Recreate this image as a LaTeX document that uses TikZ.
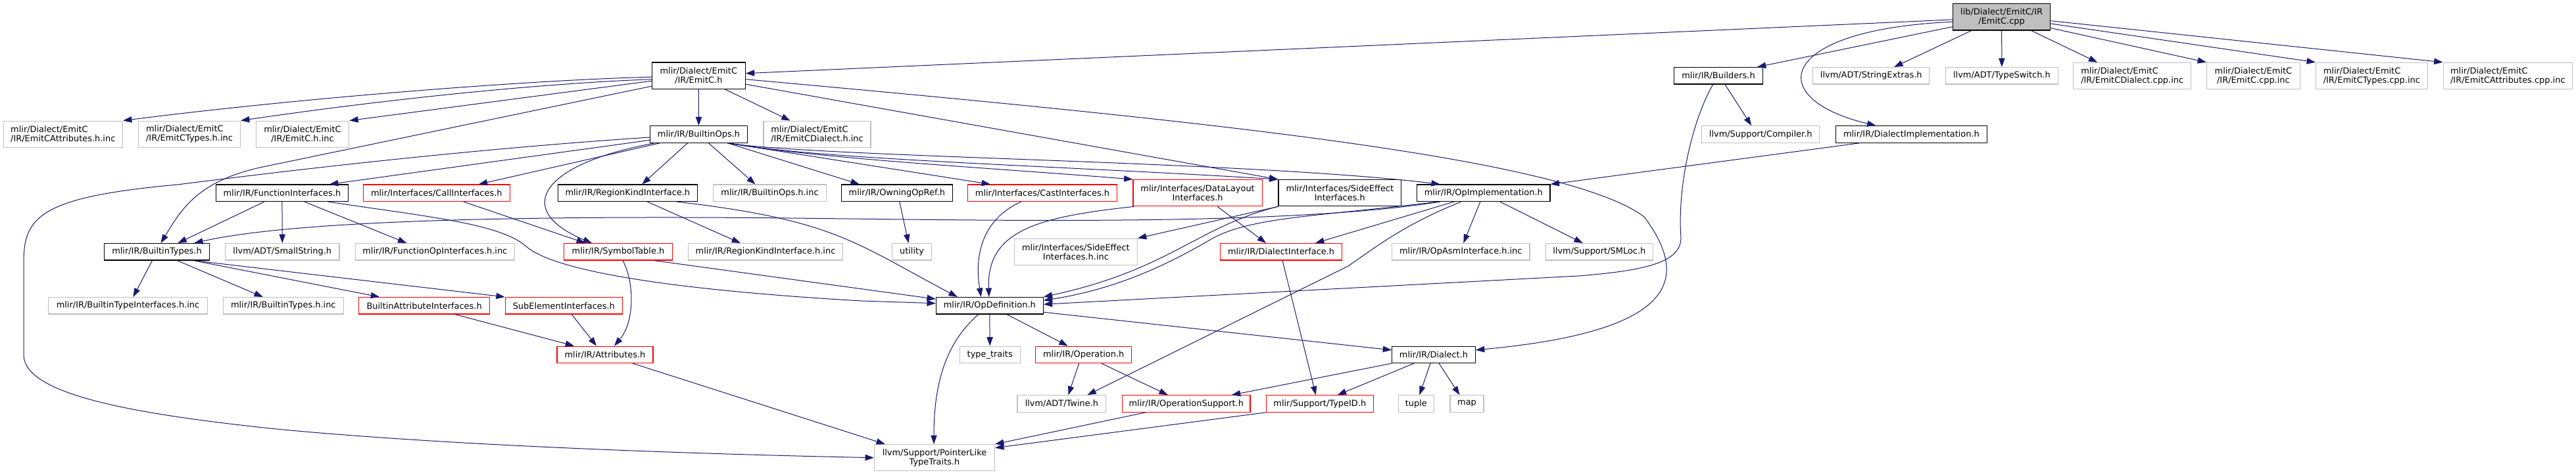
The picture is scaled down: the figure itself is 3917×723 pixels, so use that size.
\documentclass[tikz,border=0pt]{standalone}
\usepackage{fontspec}
\setmainfont{DejaVu Sans}
\usepackage{tikz}
\usetikzlibrary{arrows.meta, calc}

\definecolor{edgeblue}{HTML}{191970}
\definecolor{boxgrey}{HTML}{BFBFBF}
\newcommand{\graphfont}{\fontsize{9.7}{10.5}\selectfont}

\begin{document}
\begin{tikzpicture}[
    x=0.75pt, y=-0.75pt,
    file/.style={rectangle, draw, line width=0.85pt, inner xsep=1pt, inner ysep=0pt, minimum height=19.1pt, font=\graphfont, align=center, text=black},
    tall/.style={minimum height=30.2pt},
    lft/.style={align=left},
    bw/.style={minimum width=#1*0.75pt},
    rootbox/.style={file, draw=black, fill=boxgrey},
    docbox/.style={file, draw=black},
    extbox/.style={file, draw=boxgrey},
    cutbox/.style={file, draw=red},
    arrow/.style={-{Triangle[length=10pt, width=7pt]}, edgeblue, line width=0.75pt}
]
\path[fill=white, use as bounding box] (0,0) rectangle (3917,723);

% Root file
\node[rootbox, tall, bw=148.2] (cpp) at (3043.6,25.9) {lib/Dialect/EmitC/IR\\/EmitC.cpp};

% Level 1
\node[docbox, tall, bw=141.9] (emitch) at (1062.3,115.2) {mlir/Dialect/EmitC\\/IR/EmitC.h};
\node[docbox, bw=134.8] (builders) at (2613,115.3) {mlir/IR/Builders.h};
\node[extbox, bw=177.2] (strext) at (2845.2,115.3) {llvm/ADT/StringExtras.h};
\node[extbox, bw=170.5] (typesw) at (3043.9,115.3) {llvm/ADT/TypeSwitch.h};
\node[extbox, tall, lft, bw=179.1] (dialcppinc) at (3242.2,115.5) {mlir/Dialect/EmitC\\/IR/EmitCDialect.cpp.inc};
\node[extbox, tall, bw=141.7] (emitccppinc) at (3426.4,115.5) {mlir/Dialect/EmitC\\/IR/EmitC.cpp.inc};
\node[extbox, tall, lft, bw=169.7] (typescppinc) at (3606.3,115.5) {mlir/Dialect/EmitC\\/IR/EmitCTypes.cpp.inc};
\node[extbox, tall, lft, bw=196.5] (attrcppinc) at (3813.3,115.5) {mlir/Dialect/EmitC\\/IR/EmitCAttributes.cpp.inc};

% Level 2
\node[extbox, tall, lft, bw=181.4] (attrhinc) at (95.8,204.3) {mlir/Dialect/EmitC\\/IR/EmitCAttributes.h.inc};
\node[extbox, tall, lft, bw=154.9] (typeshinc) at (288,204.3) {mlir/Dialect/EmitC\\/IR/EmitCTypes.h.inc};
\node[extbox, tall, bw=141.5] (emitchinc) at (460,204.3) {mlir/Dialect/EmitC\\/IR/EmitC.h.inc};
\node[docbox, bw=148.2] (builtinops) at (1062.5,204.5) {mlir/IR/BuiltinOps.h};
\node[extbox, tall, lft, bw=163] (dialhinc) at (1242.5,204.3) {mlir/Dialect/EmitC\\/IR/EmitCDialect.h.inc};
\node[extbox, bw=179] (compiler) at (2677.2,204.5) {llvm/Support/Compiler.h};
\node[docbox, bw=230.6] (dialimpl) at (2906.4,204.5) {mlir/IR/DialectImplementation.h};

% Level 3
\node[docbox, bw=200.4] (funcif) at (428.9,293.8) {mlir/IR/FunctionInterfaces.h};
\node[cutbox, bw=223.2] (callif) at (663.8,293.8) {mlir/Interfaces/CallInterfaces.h};
\node[docbox, bw=212.2] (regionkind) at (954.3,293.8) {mlir/IR/RegionKindInterface.h};
\node[extbox, bw=171.3] (builtinopsinc) at (1170.5,293.8) {mlir/IR/BuiltinOps.h.inc};
\node[docbox, bw=168.9] (owning) at (1363.8,293.8) {mlir/IR/OwningOpRef.h};
\node[cutbox, bw=227.3] (castif) at (1585,293.8) {mlir/Interfaces/CastInterfaces.h};
\node[cutbox, tall, bw=196.2] (datalayout) at (1821.1,293.7) {mlir/Interfaces/DataLayout\\Interfaces.h};
\node[docbox, tall, bw=186.6] (sideeffect) at (2037.3,293.7) {mlir/Interfaces/SideEffect\\Interfaces.h};
\node[docbox, bw=202.4] (opimpl) at (2255.8,293.8) {mlir/IR/OpImplementation.h};

% Level 4
\node[docbox, bw=160.3] (builtintypes) at (238.5,383.3) {mlir/IR/BuiltinTypes.h};
\node[extbox, bw=173.4] (smallstr) at (429.3,383.3) {llvm/ADT/SmallString.h};
\node[extbox, bw=241.8] (funcopinc) at (661.3,383.3) {mlir/IR/FunctionOpInterfaces.h.inc};
\node[cutbox, bw=164.2] (symtab) at (940,383.3) {mlir/IR/SymbolTable.h};
\node[extbox, bw=234.9] (regionkindinc) at (1164,383.3) {mlir/IR/RegionKindInterface.h.inc};
\node[extbox, bw=60.2] (utility) at (1386.5,383.3) {utility};
\node[extbox, tall, bw=186.9] (sideeffectinc) at (1635.9,383.3) {mlir/Interfaces/SideEffect\\Interfaces.h.inc};
\node[cutbox, bw=184.9] (dialif) at (1948.1,383.3) {mlir/IR/DialectInterface.h};
\node[extbox, bw=209.2] (opasminc) at (2221.3,383.3) {mlir/IR/OpAsmInterface.h.inc};
\node[extbox, bw=162.9] (smloc) at (2431.8,383.3) {llvm/Support/SMLoc.h};

% Level 5
\node[extbox, bw=241.6] (typeifinc) at (194.5,465.3) {mlir/IR/BuiltinTypeInterfaces.h.inc};
\node[extbox, bw=183.1] (builtintypesinc) at (430.8,465.3) {mlir/IR/BuiltinTypes.h.inc};
\node[cutbox, bw=199.2] (attrif) at (645.1,465.3) {BuiltinAttributeInterfaces.h};
\node[cutbox, bw=178] (subelem) at (857.3,465.3) {SubElementInterfaces.h};
\node[docbox, bw=162.9] (opdef) at (1504.8,465.2) {mlir/IR/OpDefinition.h};

% Level 6
\node[cutbox, bw=146] (attributes) at (920,539.8) {mlir/IR/Attributes.h};
\node[extbox, bw=92.2] (typetraits) at (1505.2,539.8) {type\_traits};
\node[cutbox, bw=145.6] (operation) at (1647.7,539.8) {mlir/IR/Operation.h};
\node[docbox, bw=126.7] (dialect) at (2180,539.8) {mlir/IR/Dialect.h};

% Level 7
\node[extbox, bw=134.8] (twine) at (1614.4,614.5) {llvm/ADT/Twine.h};
\node[cutbox, bw=194.4] (opsupport) at (1803.8,614.5) {mlir/IR/OperationSupport.h};
\node[cutbox, bw=162.5] (typeid) at (2006.8,614.5) {mlir/Support/TypeID.h};
\node[extbox, bw=54.7] (tuple) at (2153.4,614.5) {tuple};
\node[extbox, bw=51] (map) at (2230.5,614.5) {map};

% Level 8
\node[extbox, tall, bw=183.1] (ptrlike) at (1421,696.7) {llvm/Support/PointerLike\\TypeTraits.h};

% Includes of EmitC.cpp
\draw[arrow] ($(cpp.west)+(0,4)$) -- ($(emitch.east)+(0,-3.5)$);
\draw[arrow] ($(cpp.west)+(0,14.8)$) -- ($(builders.north east)+(-9,0)$);
\draw[arrow] ($(cpp.west)+(0,7.4)$) .. controls (2700,45) and (2680,150) .. ($(dialimpl.north)+(-54,0)$);
\draw[arrow] ($(cpp.south)+(-46,0)$) -- ($(strext.north)+(35,0)$);
\draw[arrow] (cpp.south) -- (typesw.north);
\draw[arrow] ($(cpp.south)+(45,0)$) -- ($(dialcppinc.north)+(-53,0)$);
\draw[arrow] ($(cpp.east)+(0,16.8)$) -- (emitccppinc.north west);
\draw[arrow] ($(cpp.east)+(0,10.1)$) -- (typescppinc.north west);
\draw[arrow] ($(cpp.east)+(0,5.8)$) -- (attrcppinc.north west);

% Includes of EmitC.h
\draw[arrow] ($(emitch.west)+(0,2)$) .. controls (800,122) and (450,150) .. (attrhinc.north east);
\draw[arrow] ($(emitch.west)+(0,5.5)$) .. controls (800,128) and (560,155) .. (typeshinc.north east);
\draw[arrow] ($(emitch.west)+(0,8)$) -- (emitchinc.north east);
\draw[arrow] ($(emitch.west)+(0,16)$) -- (400,254) .. controls (300,275) and (275,320) .. ($(builtintypes.north)+(6,0)$);
\draw[arrow] (emitch.south) -- (builtinops.north);
\draw[arrow] ($(emitch.south)+(40,0)$) -- ($(dialhinc.north)+(-41,0)$);
\draw[arrow] ($(emitch.east)+(0,5.5)$) .. controls (1834,184) and (2380,240) .. (2500,330) .. controls (2575,430) and (2540,505) .. ($(dialect.east)+(0,-7)$);
\draw[arrow] ($(emitch.east)+(0,13)$) -- (sideeffect.north west);

% Builders and DialectImplementation
\draw[arrow] ($(builders.south)+(10,0)$) -- ($(compiler.north)+(-14,0)$);
\draw[arrow] ($(builders.south)+(-8.4,0)$) .. controls (2575,180) and (2550,280) .. (2556,362) .. controls (2556,400) and (2500,412) .. (2400,420) -- ($(opdef.east)+(0,-2)$);
\draw[arrow] ($(dialimpl.south)+(-79,0)$) -- (opimpl.north east);

% Includes of BuiltinOps.h
\draw[arrow] ($(builtinops.west)+(0,4.5)$) .. controls (700,228) and (420,262) .. (270,281) .. controls (60,300) and (36,330) .. (36,400) -- (36,540) .. controls (36,600) and (200,630) .. (420,653) .. controls (700,680) and (1100,692) .. (ptrlike.west);
\draw[arrow] ($(builtinops.west)+(0,8.8)$) -- ($(funcif.north)+(72,0)$);
\draw[arrow] ($(builtinops.south)+(-59,0)$) -- ($(callif.north)+(64,0)$);
\draw[arrow] ($(builtinops.south)+(-67,0)$) .. controls (820,250) and (780,320) .. ($(symtab.north)+(-40,0)$);
\draw[arrow] ($(builtinops.south)+(-17,0)$) -- ($(regionkind.north)+(22,0)$);
\draw[arrow] ($(builtinops.south)+(15,0)$) -- ($(builtinopsinc.north)+(-22,0)$);
\draw[arrow] ($(builtinops.south)+(44,0)$) -- ($(owning.north)+(-57,0)$);
\draw[arrow] ($(builtinops.south)+(44,0)$) -- ($(castif.north)+(-79,0)$);
\draw[arrow] ($(builtinops.south)+(44,0)$) .. controls (1250,242) and (1500,255) .. (datalayout.north west);
\draw[arrow] ($(builtinops.south)+(44,0)$) .. controls (1250,243) and (1600,252) .. (sideeffect.north west);
\draw[arrow] ($(builtinops.south)+(44,0)$) .. controls (1250,240) and (1900,245) .. ($(opimpl.north)+(-66,0)$);

% Interfaces
\draw[arrow] ($(callif.south)+(41,0)$) -- ($(symtab.north)+(-50,0)$);
\draw[arrow] ($(funcif.south)+(-27,0)$) -- ($(builtintypes.north)+(32,0)$);
\draw[arrow] (funcif.south) -- (smallstr.north);
\draw[arrow] ($(funcif.south)+(34,0)$) -- ($(funcopinc.north)+(-43,0)$);
\draw[arrow] ($(funcif.south)+(70,0)$) .. controls (650,330) and (760,340) .. (800,375) .. controls (840,410) and (1000,440) .. (1310,458) -- ($(opdef.west)+(0,-3.5)$);
\draw[arrow] ($(regionkind.south)+(30,0)$) -- ($(regionkindinc.north)+(-38,0)$);
\draw[arrow] ($(regionkind.south)+(75,0)$) .. controls (1270,335) and (1300,370) .. ($(opdef.north)+(-49,0)$);
\draw[arrow] ($(owning.south)+(4,0)$) -- ($(utility.north)+(-5,0)$);
\draw[arrow] ($(castif.south)+(-32,0)$) .. controls (1500,330) and (1480,380) .. ($(opdef.north)+(-13,0)$);
\draw[arrow] ($(datalayout.south west)+(2,0)$) .. controls (1580,330) and (1500,350) .. ($(opdef.north)+(-1,0)$);
\draw[arrow] ($(datalayout.south)+(30,0)$) -- ($(dialif.north)+(-23,0)$);
\draw[arrow] (sideeffect.south west) -- (sideeffectinc.north east);
\draw[arrow] (sideeffect.south west) .. controls (1820,345) and (1780,410) .. (opdef.north east);

% Includes of OpImplementation.h
\draw[arrow] ($(opimpl.south)+(-66,0)$) .. controls (1950,345) and (1500,335) .. (1200,332) .. controls (800,328) and (450,335) .. ($(builtintypes.north east)+(-24,0)$);
\draw[arrow] ($(opimpl.south)+(-70,0)$) .. controls (2000,330) and (1900,330) .. (1840,365) .. controls (1780,400) and (1700,440) .. ($(opdef.east)+(0,-8)$);
\draw[arrow] ($(opimpl.south)+(-45,0)$) -- ($(dialif.north)+(52,0)$);
\draw[arrow] ($(opimpl.south)+(-34,0)$) .. controls (2140,340) and (2100,370) .. (2050,405) -- ($(twine.north)+(39,0)$);
\draw[arrow] ($(opimpl.south)+(-5,0)$) -- ($(opasminc.north)+(4,0)$);
\draw[arrow] ($(opimpl.south)+(25,0)$) -- ($(smloc.north)+(-25,0)$);

% Types and attributes
\draw[arrow] ($(builtintypes.south)+(-7,0)$) -- ($(typeifinc.north)+(8,0)$);
\draw[arrow] ($(builtintypes.south)+(31,0)$) -- ($(builtintypesinc.north)+(-31,0)$);
\draw[arrow] ($(builtintypes.south)+(56,0)$) -- ($(attrif.north)+(-68,0)$);
\draw[arrow] ($(builtintypes.south)+(56,0)$) -- (subelem.north west);
\draw[arrow] ($(symtab.south)+(7,0)$) .. controls (965,430) and (965,490) .. ($(attributes.north)+(14,0)$);
\draw[arrow] ($(symtab.south)+(55,0)$) -- ($(opdef.west)+(0,-10)$);
\draw[arrow] ($(attrif.south)+(47,0)$) -- ($(attributes.north)+(-47,0)$);
\draw[arrow] ($(subelem.south)+(12,0)$) -- ($(attributes.north)+(-13,0)$);
\draw[arrow] ($(attributes.south)+(42,0)$) -- ($(ptrlike.north west)+(17,0)$);
\draw[arrow] ($(dialif.south)+(2,0)$) -- ($(typeid.north)+(-6,0)$);

% Includes of OpDefinition.h
\draw[arrow] ($(opdef.south)+(-17,0)$) .. controls (1440,520) and (1420,580) .. ($(ptrlike.north)+(-1,0)$);
\draw[arrow] (opdef.south) -- (typetraits.north);
\draw[arrow] ($(opdef.south)+(26,0)$) -- ($(operation.north)+(-24,0)$);
\draw[arrow] ($(opdef.east)+(0,10)$) -- ($(dialect.west)+(0,-7)$);

% Bottom rows
\draw[arrow] ($(operation.south)+(-7,0)$) -- ($(twine.north)+(10,0)$);
\draw[arrow] ($(operation.south)+(27,0)$) -- ($(opsupport.north)+(-28,0)$);
\draw[arrow] ($(opsupport.south)+(-62,0)$) -- (ptrlike.north east);
\draw[arrow] (typeid.south west) -- ($(ptrlike.east)+(0,-15)$);
\draw[arrow] (dialect.south west) -- ($(opsupport.north)+(69,0)$);
\draw[arrow] ($(dialect.south)+(-30,0)$) -- ($(typeid.north)+(27,0)$);
\draw[arrow] ($(dialect.south)+(-5,0)$) -- ($(tuple.north)+(5,0)$);
\draw[arrow] ($(dialect.south)+(8,0)$) -- ($(map.north)+(-11,0)$);

\end{tikzpicture}
\end{document}
